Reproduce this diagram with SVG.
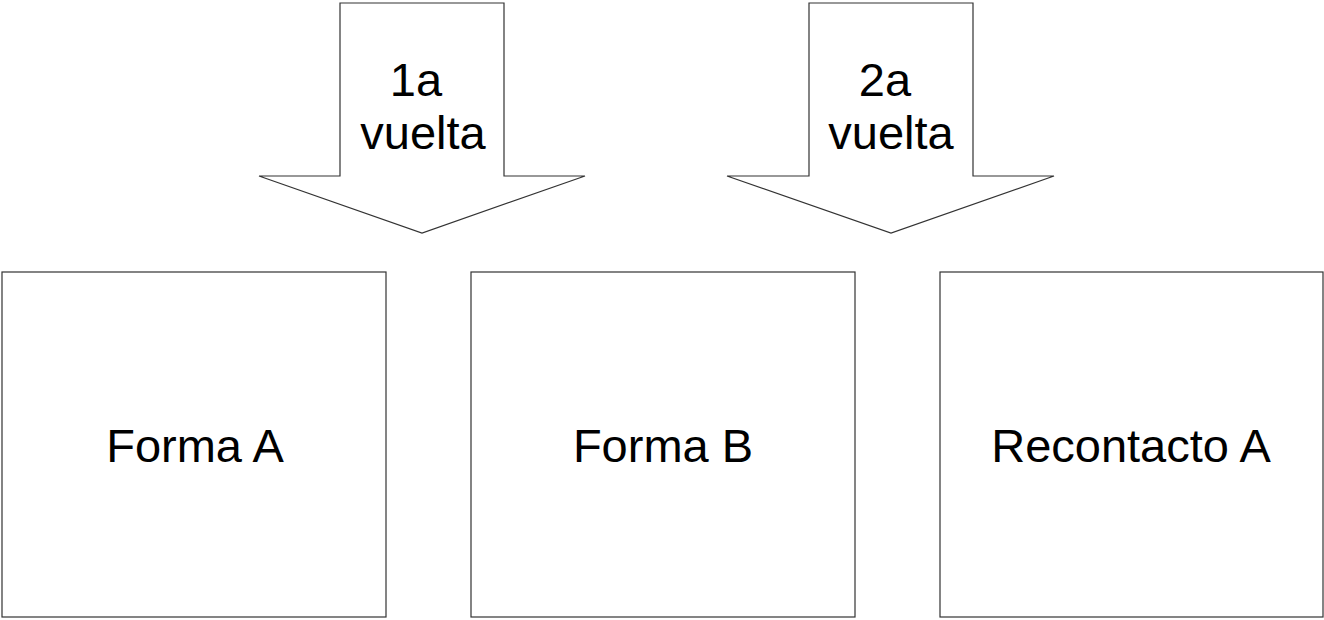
<svg xmlns="http://www.w3.org/2000/svg" width="1324" height="620" viewBox="0 0 1324 620">
<style>
.shape{fill:#ffffff;stroke:#333333;stroke-width:1.2}
.lbl{font-family:"Liberation Sans",Arial,sans-serif;font-size:47px;fill:#000000;text-anchor:middle}
</style>
<rect width="1324" height="620" fill="#ffffff"/>
<g id="connectors">
<g id="arrow1">
<polygon class="shape" points="340,3 504,3 504,176 585,176 422,233 259,176 340,176"/>
<text class="lbl" x="416" y="96">1a</text>
<text class="lbl" x="423" y="149">vuelta</text>
</g>
<g id="arrow2">
<polygon class="shape" points="809,3 973,3 973,176 1054,176 891,233 727,176 809,176"/>
<text class="lbl" x="885" y="96">2a</text>
<text class="lbl" x="891" y="149">vuelta</text>
</g>
</g>
<g id="formaA">
<rect class="shape" x="2" y="272" width="384" height="345"/>
<text class="lbl" x="195" y="462">Forma A</text>
</g>
<g id="formaB">
<rect class="shape" x="471" y="272" width="384" height="345"/>
<text class="lbl" x="663" y="462">Forma B</text>
</g>
<g id="recontactoA">
<rect class="shape" x="940" y="272" width="383" height="345"/>
<text class="lbl" x="1131" y="462">Recontacto A</text>
</g>
</svg>
